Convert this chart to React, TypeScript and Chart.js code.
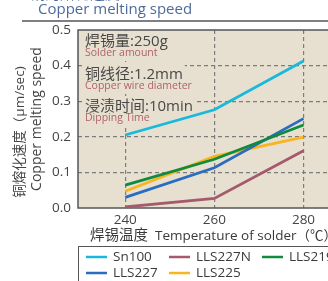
import React, { useEffect, useRef } from "react";
import { Chart, registerables } from "chart.js";

Chart.register(...registerables);

// ---- data ----
const temps = [240, 260, 280];
const seriesNames = ["Sn100", "LLS227N", "LLS219", "LLS227", "LLS225"];
const sn100 = [0.205, 0.276, 0.413];
const lls227n = [0.003, 0.027, 0.161];
const lls219 = [0.064, 0.137, 0.233];
const lls227 = [0.03, 0.113, 0.251];
const lls225 = [0.047, 0.145, 0.199];
const yTicks = [0, 0.1, 0.2, 0.3, 0.4, 0.5];
const seriesColors = ["#18b9da", "#a45a6c", "#108a3c", "#2a6cc0", "#f9b51e"];

const headerTitle = "Copper melting speed";
const headerTitleCn = "铜的熔化速度";
const yTitleCn = "铜熔化速度（μm/sec)";
const yTitleEn = "Copper melting speed";
const xTitleCn = "焊锡温度";
const xTitleEn = "Temperature of solder（℃）";
const notes = [
  { text: "焊锡量:250g", sub: "Solder amount" },
  { text: "铜线径:1.2mm", sub: "Copper wire diameter" },
  { text: "浸渍时间:10min", sub: "Dipping Time" },
];

const FONT = '"Open Sans", "Noto Sans CJK SC", sans-serif';
const PLOT_BG = "#e7e0d0";
const GRID = "#7c7c7c";
const FRAME = "#555555";

const allSeries = [sn100, lls227n, lls219, lls227, lls225];

const decoPlugin = {
  id: "deco",
  beforeDraw(chart: any) {
    const { ctx, chartArea: a } = chart;
    ctx.save();
    ctx.fillStyle = "#ffffff";
    ctx.fillRect(0, 0, chart.width, chart.height);
    ctx.fillStyle = PLOT_BG;
    ctx.fillRect(a.left, a.top, a.right - a.left, a.bottom - a.top);
    ctx.restore();
  },
  beforeDatasetsDraw(chart: any) {
    const { ctx, chartArea: a } = chart;
    ctx.save();
    const x = a.left + 7;
    const rows = [12, 45, 77];
    notes.forEach((n, i) => {
      const y1 = a.top + rows[i];
      const y2 = y1 + 11;
      ctx.font = `15px ${FONT}`;
      const w1 = ctx.measureText(n.text).width;
      ctx.font = `10.5px ${FONT}`;
      const w2 = ctx.measureText(n.sub).width;
      ctx.fillStyle = PLOT_BG;
      ctx.fillRect(x - 2, y1 - 11, w1 + 4, 21);
      ctx.fillRect(x - 2, y2 - 8, w2 + 4, 16);
      ctx.textAlign = "left";
      ctx.textBaseline = "middle";
      ctx.fillStyle = "#484848";
      ctx.font = `15px ${FONT}`;
      ctx.fillText(n.text, x, y1);
      ctx.fillStyle = "#b0606c";
      ctx.font = `10.5px ${FONT}`;
      ctx.fillText(n.sub, x, y2);
    });
    ctx.strokeStyle = FRAME;
    ctx.lineWidth = 1.5;
    ctx.beginPath();
    ctx.moveTo(a.right + 2, a.top);
    ctx.lineTo(a.left, a.top);
    ctx.lineTo(a.left, a.bottom);
    ctx.lineTo(a.right + 2, a.bottom);
    ctx.stroke();
    ctx.restore();
  },
  afterDraw(chart: any) {
    const { ctx, chartArea: a } = chart;
    ctx.save();
    ctx.textAlign = "left";
    ctx.textBaseline = "alphabetic";
    ctx.fillStyle = "#4d6b9a";
    ctx.font = `15px ${FONT}`;
    ctx.fillText(headerTitleCn, 30, -1);
    ctx.textBaseline = "middle";
    ctx.fillText(headerTitle, 38, 10);
    ctx.strokeStyle = "#555";
    ctx.lineWidth = 1.5;
    ctx.beginPath();
    ctx.moveTo(22, 21);
    ctx.lineTo(chart.width, 21);
    ctx.stroke();

    ctx.fillStyle = "#444";
    ctx.textAlign = "center";
    ctx.save();
    ctx.translate(20, 132);
    ctx.rotate(-Math.PI / 2);
    ctx.font = `13.5px ${FONT}`;
    ctx.fillText(yTitleCn, 0, 0);
    ctx.restore();
    ctx.save();
    ctx.translate(37, 119);
    ctx.rotate(-Math.PI / 2);
    ctx.font = `14px ${FONT}`;
    ctx.fillText(yTitleEn, 0, 0);
    ctx.restore();

    ctx.textAlign = "left";
    ctx.fillStyle = "#3a3a3a";
    ctx.font = `14.5px ${FONT}`;
    ctx.fillText(xTitleCn, 90, 236);
    ctx.font = `13.5px ${FONT}`;
    ctx.fillText(xTitleEn, 155, 236);

    const lx = a.left;
    const ly = 246.5;
    ctx.strokeStyle = "#555";
    ctx.lineWidth = 1;
    ctx.strokeRect(lx + 0.5, ly, chart.width, 60);
    const cols = [86, 169, 262];
    const rowsY = [257, 273];
    chart.data.datasets.forEach((ds: any, i: number) => {
      const cx = cols[i % 3];
      const cy = rowsY[Math.floor(i / 3)];
      ctx.strokeStyle = ds.borderColor;
      ctx.lineWidth = 2.5;
      ctx.beginPath();
      ctx.moveTo(cx, cy);
      ctx.lineTo(cx + 21, cy);
      ctx.stroke();
      ctx.fillStyle = "#3a3a3a";
      ctx.font = `13.5px ${FONT}`;
      ctx.textBaseline = "middle";
      ctx.fillText(ds.label, cx + 27, cy);
    });
    ctx.restore();
  },
};

export default function App() {
  const ref = useRef<HTMLCanvasElement | null>(null);
  useEffect(() => {
    if (!ref.current) return;
    const gridColor = (c: any) =>
      c.tick && (c.tick.value === 0 || c.tick.value === 0.5) ? "rgba(0,0,0,0)" : GRID;
    const chart = new Chart(ref.current, {
      type: "line",
      data: {
        datasets: allSeries.map((arr, i) => ({
          label: seriesNames[i],
          data: temps.map((t, j) => ({ x: t, y: arr[j] })),
          borderColor: seriesColors[i],
          backgroundColor: seriesColors[i],
          borderWidth: 2.8,
          pointRadius: 0,
          tension: 0,
          fill: false,
        })),
      },
      options: {
        animation: false,
        responsive: false,
        devicePixelRatio: 1,
        layout: { padding: { top: 30, left: 0, right: 0, bottom: 0 } },
        plugins: { legend: { display: false }, tooltip: { enabled: false } },
        scales: {
          x: {
            type: "linear",
            min: 229.4,
            max: 285.5,
            afterBuildTicks: (s: any) => {
              s.ticks = temps.map((v) => ({ value: v }));
            },
            afterFit: (s: any) => {
              s.height = 73;
            },
            ticks: {
              font: { family: FONT, size: 13.5 },
              color: "#444",
              padding: 4,
              maxRotation: 0,
              callback: (v: any) => String(v),
            },
            grid: { color: GRID, lineWidth: 1.2, drawTicks: false },
            border: { display: false, dash: [4, 3] },
          },
          y: {
            min: 0,
            max: 0.5,
            afterBuildTicks: (s: any) => {
              s.ticks = yTicks.map((v) => ({ value: v }));
            },
            afterFit: (s: any) => {
              s.width = 78;
            },
            ticks: {
              font: { family: FONT, size: 13.5 },
              color: "#444",
              padding: 7,
              callback: (v: any) => Number(v).toFixed(1),
            },
            grid: { color: gridColor, lineWidth: 1.2, drawTicks: false },
            border: { display: false, dash: [4, 3] },
          },
        },
      },
      plugins: [decoPlugin],
    } as any);
    return () => chart.destroy();
  }, []);
  return (
    <div style={{ position: "fixed", left: 0, top: 0, width: 328, height: 281 }}>
      <canvas ref={ref} width={328} height={281} style={{ display: "block" }} />
    </div>
  );
}
